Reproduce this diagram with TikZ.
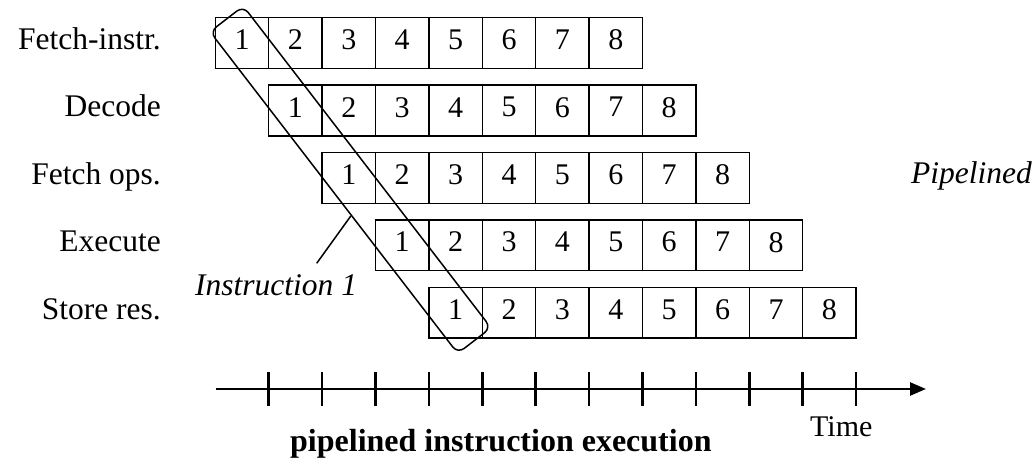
\documentclass[tikz,border=0pt]{standalone}
\usepackage{fontspec}
\setmainfont{Liberation Serif}
\usetikzlibrary{arrows.meta}
\begin{document}
\begin{tikzpicture}[x=1pt,y=-1pt,
  cell/.style={draw,line width=1.5pt,minimum width=53.4pt,minimum height=50.7pt,inner sep=0pt,text depth=6.6pt,font=\fontsize{30}{36}\selectfont},
  lab/.style={anchor=base east,inner sep=0pt,font=\fontsize{31.5}{36}\selectfont},
  itlab/.style={inner sep=0pt,font=\fontsize{31.5}{36}\selectfont\itshape},
  plain/.style={inner sep=0pt,font=\fontsize{30}{36}\selectfont},
  boldlab/.style={inner sep=0pt,font=\fontsize{32}{38}\selectfont\bfseries},
  thin/.style={line width=1.5pt},
  axisline/.style={line width=2.5pt},
  ticksty/.style={line width=2.5pt}]
\useasboundingbox (0,0) rectangle (1034,460);
\foreach \r/\name in {0/Fetch-instr.,1/Decode,2/Fetch ops.,3/Execute,4/Store res.} {
  \pgfmathsetmacro\cy{43+67.45*\r}
  \foreach \k in {1,...,8} {
    \node[cell] (b\r-\k) at ({215.3+53.4*(\r+\k-1)+26.7},\cy) {\k};
  }
  \node[lab] (l\r) at (161,\cy+6.4) {\name};
}
\node[draw,thin,rounded corners=8pt,minimum width=406pt,minimum height=42pt,inner sep=0pt,rotate=-52.4] (instr) at (350.5,179.75) {};
\node[itlab,anchor=base west] (instrlab) at (195,295) {Instruction 1};
\coordinate (lead) at (316.7,263.3);
\draw[thin] (lead) -- (instr.-37);
\node[itlab,anchor=base east] (pipe) at (1032,183.3) {Pipelined};
\coordinate (a0) at (215.7,389);
\coordinate (a1) at (926,389);
\draw[axisline,-{Triangle[length=16pt,width=13pt]}] (a0) -- (a1);
\foreach \k in {1,...,12} {
  \coordinate (t\k u) at ({215.3+53.4*\k},372.3);
  \coordinate (t\k d) at ({215.3+53.4*\k},405.7);
  \draw[ticksty] (t\k u) -- (t\k d);
}
\node[plain,anchor=base west] (time) at (810,436) {Time};
\node[boldlab,anchor=base west] (caption) at (290,451.7) {pipelined instruction execution};
\end{tikzpicture}
\end{document}
